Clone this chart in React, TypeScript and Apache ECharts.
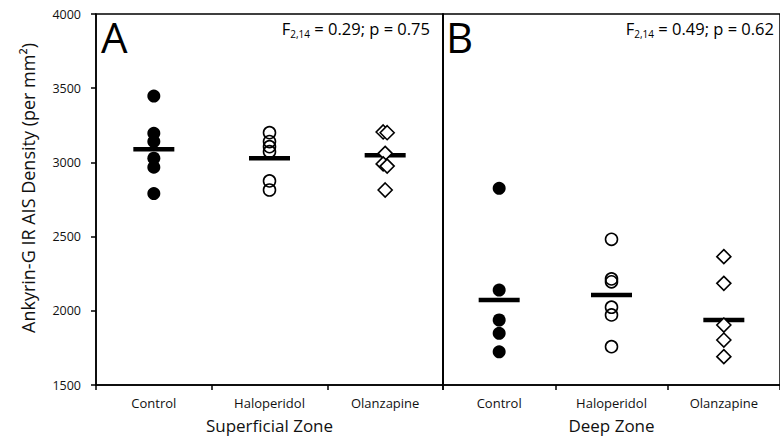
import React, { useEffect, useRef } from "react";
import * as echarts from "echarts";

const categories = ["Control", "Haloperidol", "Olanzapine"];
const yTicks = { min: 1500, max: 4000, interval: 500 };

const superficialControl = [3447, 3196, 3140, 3028, 2968, 2790];
const superficialHaloperidol = [3200, 3140, 3106, 3072, 2875, 2814];
const superficialOlanzapine = [3205, 3200, 3061, 2990, 2975, 2814];
const superficialMeans = [3088, 3028, 3048];

const deepControl = [2825, 2140, 1938, 1848, 1724];
const deepHaloperidol = [2482, 2215, 2195, 2024, 1972, 1758];
const deepOlanzapine = [2365, 2185, 1904, 1803, 1691];
const deepMeans = [2073, 2106, 1938];

// horizontal jitter (px) of overlapping diamonds in the superficial panel
const superficialOlanzapineJitter = [-2, 2, 0, -2, 2, 0];

const panelLetters = ["A", "B"];
const zoneNames = ["Superficial Zone", "Deep Zone"];
const fStats = [
  { df: "2,14", F: "0.29", p: "0.75" },
  { df: "2,14", F: "0.49", p: "0.62" },
];

const FONT = "'Open Sans', 'Noto Sans', sans-serif";

export default function App() {
  const ref = useRef<HTMLDivElement>(null);

  useEffect(() => {
    if (!ref.current) return;
    const chart = echarts.init(ref.current, null, { renderer: "svg" });

    const pts = (vals: number[], cat: string, jitter?: number[]) =>
      vals.map((v, i) =>
        jitter ? { value: [cat, v], symbolOffset: [jitter[i], 0] } : { value: [cat, v] }
      );

    const meanSeries = (means: number[], idx: number) => ({
      type: "scatter",
      xAxisIndex: idx,
      yAxisIndex: idx,
      symbol: "rect",
      symbolSize: [41, 4.5],
      itemStyle: { color: "#000", opacity: 1 },
      z: 1,
      silent: true,
      data: means.map((m, i) => [categories[i], m]),
    });

    const groupSeries = (
      idx: number,
      control: number[],
      hal: number[],
      olz: number[],
      olzJitter?: number[]
    ) => [
      {
        type: "scatter",
        xAxisIndex: idx,
        yAxisIndex: idx,
        symbol: "circle",
        symbolSize: 13,
        itemStyle: { color: "#000", opacity: 1 },
        z: 3,
        data: pts(control, categories[0]),
      },
      {
        type: "scatter",
        xAxisIndex: idx,
        yAxisIndex: idx,
        symbol: "circle",
        symbolSize: 12,
        itemStyle: { color: "rgba(255,255,255,0)", borderColor: "#000", borderWidth: 1.6, opacity: 1 },
        z: 3,
        data: pts(hal, categories[1]),
      },
      {
        type: "scatter",
        xAxisIndex: idx,
        yAxisIndex: idx,
        symbol: "diamond",
        symbolSize: 14,
        itemStyle: { color: "#fff", borderColor: "#000", borderWidth: 1.6, opacity: 1 },
        z: 3,
        data: pts(olz, categories[2], olzJitter),
      },
    ];

    const xAxis = (idx: number) => ({
      type: "category",
      gridIndex: idx,
      data: categories,
      boundaryGap: true,
      axisLine: { show: true, lineStyle: { color: "#000", width: 1.5 } },
      axisTick: { show: true, length: 5, lineStyle: { color: "#000", width: 1.5 } },
      axisLabel: { color: "#111", fontFamily: FONT, fontSize: 13, margin: 11 },
      name: zoneNames[idx],
      nameLocation: "middle",
      nameGap: 32,
      nameTextStyle: { color: "#111", fontFamily: FONT, fontSize: 17 },
      splitLine: { show: false },
    });

    const yAxis = (idx: number) => ({
      type: "value",
      gridIndex: idx,
      min: yTicks.min,
      max: yTicks.max,
      interval: yTicks.interval,
      axisLine: { show: true, lineStyle: { color: "#000", width: 1.5 } },
      axisTick: { show: idx === 0, length: 5, lineStyle: { color: "#000", width: 1.5 } },
      axisLabel: {
        show: idx === 0,
        color: "#111",
        fontFamily: FONT,
        fontSize: 12.5,
        margin: 15,
        formatter: (v: number) => String(v),
      },
      splitLine: { show: false },
    });

    const fText = (i: number) =>
      `{a|F}{s|${fStats[i].df}}{a| = ${fStats[i].F}; p = ${fStats[i].p}}`;
    const rich = {
      a: { fontSize: 16.5, fontFamily: FONT, color: "#111", lineHeight: 22, verticalAlign: "middle" },
      s: { fontSize: 10, fontFamily: FONT, color: "#111", lineHeight: 22, verticalAlign: "bottom" },
    };

    chart.setOption({
      animation: false,
      backgroundColor: "#fff",
      grid: [
        { left: 96, top: 14, width: 347, height: 371, show: true, borderColor: "#000", borderWidth: 1.5 },
        { left: 443, top: 14, width: 348, height: 371, show: true, borderColor: "#000", borderWidth: 1.5 },
      ],
      xAxis: [xAxis(0), xAxis(1)],
      yAxis: [yAxis(0), yAxis(1)],
      series: [
        meanSeries(superficialMeans, 0),
        ...groupSeries(0, superficialControl, superficialHaloperidol, superficialOlanzapine, superficialOlanzapineJitter),
        meanSeries(deepMeans, 1),
        ...groupSeries(1, deepControl, deepHaloperidol, deepOlanzapine),
      ],
      graphic: [
        {
          type: "text",
          x: 28,
          y: 188,
          rotation: Math.PI / 2,
          style: {
            text: "Ankyrin-G IR AIS Density (per mm²)",
            fontFamily: FONT,
            fontSize: 18,
            fill: "#111",
            align: "center",
            verticalAlign: "middle",
          },
        },
        {
          type: "text",
          x: 101,
          y: 36,
          style: { text: panelLetters[0], fontFamily: FONT, fontSize: 42, fill: "#000", align: "left", verticalAlign: "middle" },
        },
        {
          type: "text",
          x: 446,
          y: 36,
          style: { text: panelLetters[1], fontFamily: FONT, fontSize: 42, fill: "#000", align: "left", verticalAlign: "middle" },
        },
        {
          type: "text",
          x: 430,
          y: 28,
          style: { text: fText(0), rich, align: "right", verticalAlign: "middle" },
        },
        {
          type: "text",
          x: 774,
          y: 28,
          style: { text: fText(1), rich, align: "right", verticalAlign: "middle" },
        },
      ],
    });

    return () => chart.dispose();
  }, []);

  return (
    <div
      ref={ref}
      style={{ position: "fixed", left: 0, top: 0, width: 780, height: 443, background: "#fff" }}
    />
  );
}
